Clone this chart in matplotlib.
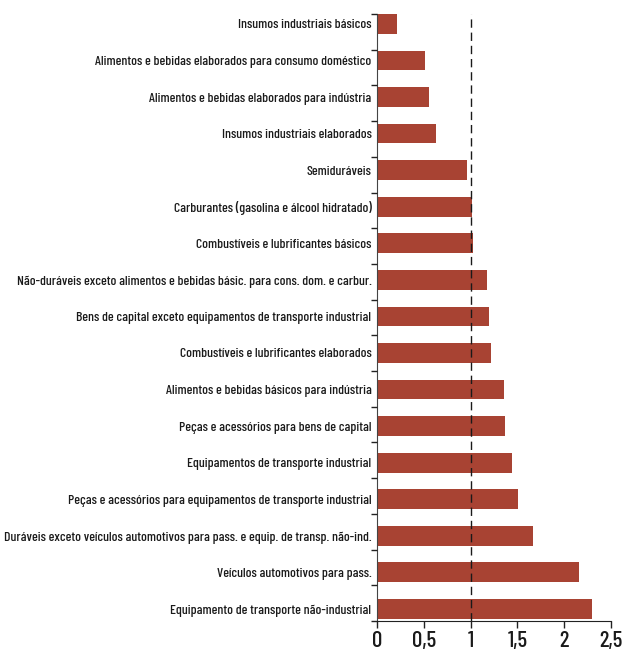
import matplotlib
matplotlib.use("Agg")
import matplotlib.pyplot as plt
import numpy as np

categories = [
    "Insumos industriais básicos",
    "Alimentos e bebidas elaborados para consumo doméstico",
    "Alimentos e bebidas elaborados para indústria",
    "Insumos industriais elaborados",
    "Semiduráveis",
    "Carburantes (gasolina e álcool hidratado)",
    "Combustíveis e lubrificantes básicos",
    "Não-duráveis exceto alimentos e bebidas básic. para cons. dom. e carbur.",
    "Bens de capital exceto equipamentos de transporte industrial",
    "Combustíveis e lubrificantes elaborados",
    "Alimentos e bebidas básicos para indústria",
    "Peças e acessórios para bens de capital",
    "Equipamentos de transporte industrial",
    "Peças e acessórios para equipamentos de transporte industrial",
    "Duráveis exceto veículos automotivos para pass. e equip. de transp. não-ind.",
    "Veículos automotivos para pass.",
    "Equipamento de transporte não-industrial",
]
values = [0.21, 0.51, 0.56, 0.63, 0.96, 1.01, 1.03, 1.17, 1.20, 1.22,
          1.36, 1.37, 1.44, 1.51, 1.67, 2.16, 2.30]
xticks = [0, 0.5, 1, 1.5, 2, 2.5]
xticklabels = ["0", "0,5", "1", "1,5", "2", "2,5"]

fam = ["Barlow Condensed", "DejaVu Sans"]
plt.rcParams["font.family"] = fam
plt.rcParams["font.weight"] = "medium"
plt.rcParams["text.color"] = "#1a1a1a"
plt.rcParams["xtick.color"] = "#1a1a1a"
plt.rcParams["ytick.color"] = "#1a1a1a"

fig = plt.figure(figsize=(6.22, 6.51), dpi=100)
rect = [377/622, 1 - 621/651, (611-377)/622, (621-14)/651]
ax = fig.add_axes(rect)

n = len(categories)
pos = np.arange(n)
ax.barh(pos, values, height=0.54, color="#A84333", zorder=2)
ax.axvline(1, color="#1a1a1a", lw=1.0, ls=(0, (6, 3.5)), zorder=3)

ax.set_xticks(xticks)
ax.set_xticklabels(xticklabels, fontsize=16.5, fontweight="medium")
ax.set_yticks(pos)
ax.set_yticklabels(categories, fontsize=9.9, fontweight="medium")
ax.tick_params(axis="y", which="major", length=0, pad=4)
ax.tick_params(axis="x", length=5, width=1, color="#222222", direction="out", pad=2)
ax.set_xlim(0, 2.5)
ax.set_ylim(16.33, -0.27)

# category-boundary tick marks (as in the original axis)
ax2 = ax.twinx()
ax2.set_yticks(np.arange(n + 1))
ax2.set_ylim(n, 0)
ax2.tick_params(axis="y", left=True, right=False, labelleft=False, labelright=False,
                length=4, width=1, color="#222222", direction="out")
for s in ["top", "right", "left", "bottom"]:
    ax2.spines[s].set_visible(False)

for s in ["top", "right"]:
    ax.spines[s].set_visible(False)
ax.spines["left"].set_color("#444444")
ax.spines["bottom"].set_color("#222222")

fig.savefig("out.png", dpi=100)
